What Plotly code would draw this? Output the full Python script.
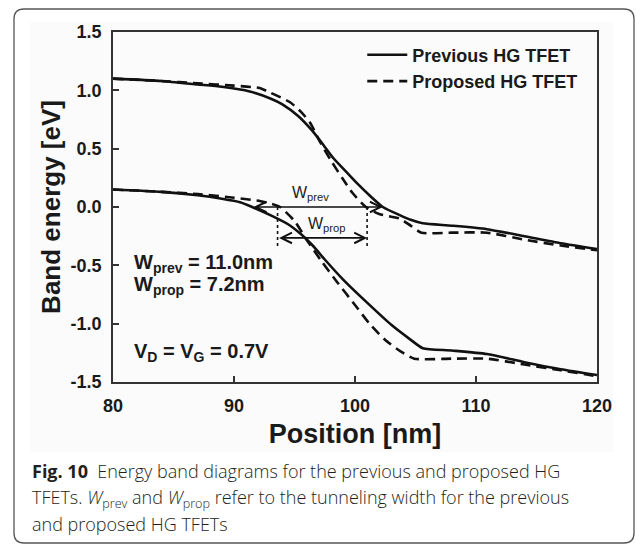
import plotly.graph_objects as go

# ---------------- data ----------------
x_cb_prev = [80, 84, 87, 89, 91.3, 93, 94, 95.3, 96.5, 97.4, 98.2, 99.2, 100.2, 101.3, 102.3, 103.7, 104.6, 105.6, 108, 110.9, 114, 117, 120]
e_cb_prev = [1.10, 1.08, 1.05, 1.03, 0.99, 0.93, 0.88, 0.78, 0.65, 0.53, 0.42, 0.31, 0.20, 0.09, 0.0, -0.07, -0.11, -0.14, -0.16, -0.19, -0.25, -0.31, -0.36]

x_cb_prop = [80, 84, 87, 90, 92.1, 93, 94.6, 95.5, 96.3, 97.1, 98, 99, 99.8, 100.9, 102, 103.7, 104.6, 105.5, 108, 110.9, 114, 117, 120]
e_cb_prop = [1.10, 1.08, 1.06, 1.04, 1.02, 0.98, 0.90, 0.82, 0.72, 0.56, 0.40, 0.24, 0.12, 0.0, -0.06, -0.10, -0.16, -0.22, -0.22, -0.22, -0.28, -0.33, -0.37]

x_vb_prev = [80, 84, 87, 89, 90.5, 91.5, 93, 94.5, 95.5, 96.5, 97.5, 99, 101, 103, 104.5, 105.6, 108, 110.9, 114, 117, 120]
e_vb_prev = [0.15, 0.13, 0.10, 0.07, 0.04, 0.0, -0.07, -0.15, -0.23, -0.33, -0.45, -0.62, -0.82, -1.01, -1.13, -1.21, -1.23, -1.26, -1.33, -1.39, -1.44]

x_vb_prop = [80, 84, 87, 90, 92.2, 93, 93.8, 95, 96, 97.2, 98.5, 100, 101.2, 102.5, 103.8, 104.9, 108, 110.9, 114, 117, 120]
e_vb_prop = [0.15, 0.13, 0.11, 0.08, 0.05, 0.03, 0.0, -0.12, -0.28, -0.46, -0.64, -0.84, -1.0, -1.14, -1.24, -1.30, -1.30, -1.30, -1.35, -1.40, -1.45]

series_names = ["Previous HG TFET", "Proposed HG TFET"]

w_prev_span = [91.5, 102.3]   # tunneling width arrow (previous), at E = 0
w_prev_level = 0.0
w_prop_span = [93.6, 101.0]   # tunneling width arrow (proposed)
w_prop_level = -0.265
dotted_x = [93.6, 101.0]
dotted_e = [0.0, -0.36]

x_ticks = [80, 90, 100, 110, 120]
y_ticks = [-1.5, -1.0, -0.5, 0.0, 0.5, 1.0, 1.5]
y_tick_labels = ["-1.5", "-1.0", "-0.5", "0.0", "0.5", "1.0", "1.5"]

caption_lines = [
    "<b>Fig. 10</b>  Energy band diagrams for the previous and proposed HG",
    "TFETs. <i>W</i><sub>prev</sub> and <i>W</i><sub>prop</sub> refer to the tunneling width for the previous",
    "and proposed HG TFETs",
]

# ---------------- figure ----------------
W, H = 637, 546
L, R, T, B = 113, 40, 32, 164
pw, ph = W - L - R, H - T - B

def px_x(p):
    return (p - L) / pw

def px_y(p):
    return 1 - (p - T) / ph

BOLD = dict(family="Liberation Sans, Arial, sans-serif", color="#1a1a1a", weight="bold")
DASH = "10px,6px"

fig = go.Figure()
line_w = 2.6
fig.add_trace(go.Scatter(x=x_cb_prev, y=e_cb_prev, mode="lines", name=series_names[0], legendgroup="prev",
                         line=dict(color="#111", width=line_w, shape="spline", smoothing=0.6)))
fig.add_trace(go.Scatter(x=x_cb_prop, y=e_cb_prop, mode="lines", name=series_names[1], legendgroup="prop",
                         line=dict(color="#111", width=line_w, dash=DASH, shape="spline", smoothing=0.6)))
fig.add_trace(go.Scatter(x=x_vb_prev, y=e_vb_prev, mode="lines", name=series_names[0], legendgroup="prev", showlegend=False,
                         line=dict(color="#111", width=line_w, shape="spline", smoothing=0.6)))
fig.add_trace(go.Scatter(x=x_vb_prop, y=e_vb_prop, mode="lines", name=series_names[1], legendgroup="prop", showlegend=False,
                         line=dict(color="#111", width=line_w, dash=DASH, shape="spline", smoothing=0.6)))

shapes = []
# card
r = 10
x0, x1, y0, y1 = 14, 634, 9, 543
def P(xp, yp):
    return f"{px_x(xp):.5f},{px_y(yp):.5f}"
path = (f"M {P(x0 + r, y0)} L {P(x1 - r, y0)} Q {P(x1, y0)} {P(x1, y0 + r)} "
        f"L {P(x1, y1 - r)} Q {P(x1, y1)} {P(x1 - r, y1)} L {P(x0 + r, y1)} Q {P(x0, y1)} {P(x0, y1 - r)} "
        f"L {P(x0, y0 + r)} Q {P(x0, y0)} {P(x0 + r, y0)} Z")
shapes.append(dict(type="path", xref="paper", yref="paper", path=path, line=dict(color="#555", width=1.3),
                   fillcolor="white", layer="below"))
shapes.append(dict(type="rect", xref="paper", yref="paper", x0=px_x(30), x1=px_x(613), y0=px_y(452), y1=px_y(22),
                   line=dict(width=0), fillcolor="#fbfbfb", layer="below"))
for dx in dotted_x:
    shapes.append(dict(type="line", xref="x", yref="y", x0=dx, x1=dx, y0=dotted_e[0], y1=dotted_e[1],
                       line=dict(color="#111", width=1.6, dash="dot")))

ann = []
for span, lev in [(w_prev_span, w_prev_level), (w_prop_span, w_prop_level)]:
    ann.append(dict(x=span[1], y=lev, ax=span[0], ay=lev, xref="x", yref="y", axref="x", ayref="y",
                    showarrow=True, arrowhead=5, startarrowhead=5, arrowside="end+start", arrowsize=1.3,
                    arrowwidth=1.6, arrowcolor="#111", text=""))
ann.append(dict(x=96.3, y=0.12, xref="x", yref="y", text="W<sub>prev</sub>", showarrow=False,
                font=dict(family="Liberation Sans, Arial", size=16, color="#222")))
ann.append(dict(x=97.7, y=-0.15, xref="x", yref="y", text="W<sub>prop</sub>", showarrow=False,
                font=dict(family="Liberation Sans, Arial", size=16, color="#222")))
ann.append(dict(x=81.6, y=-0.48, xref="x", yref="y", xanchor="left", text="W<sub>prev</sub> = 11.0nm",
                showarrow=False, font=dict(size=20, **BOLD)))
ann.append(dict(x=81.6, y=-0.67, xref="x", yref="y", xanchor="left", text="W<sub>prop</sub> = 7.2nm",
                showarrow=False, font=dict(size=20, **BOLD)))
ann.append(dict(x=81.6, y=-1.25, xref="x", yref="y", xanchor="left", text="V<sub>D</sub> = V<sub>G</sub> = 0.7V",
                showarrow=False, font=dict(size=20, **BOLD)))
cap_y = [471, 498, 524]
for txt, cy in zip(caption_lines, cap_y):
    ann.append(dict(x=px_x(30), y=px_y(cy), xref="paper", yref="paper", xanchor="left", yanchor="middle",
                    text=txt, showarrow=False,
                    font=dict(family="Open Sans, Noto Sans", size=18, color="#231f20", weight=300)))

fig.update_layout(
    width=W, height=H, autosize=False,
    margin=dict(l=L, r=R, t=T, b=B, pad=0),
    paper_bgcolor="white", plot_bgcolor="#fbfbfb",
    shapes=shapes, annotations=ann,
    showlegend=True,
    legend=dict(x=0.515, y=0.987, xanchor="left", yanchor="top", bgcolor="rgba(0,0,0,0)",
                font=dict(size=18, **BOLD), itemwidth=40, tracegroupgap=0),
    xaxis=dict(range=[80, 120], tickvals=x_ticks, ticks="inside", ticklen=6, tickwidth=1.5, tickcolor="#333",
               showline=True, linecolor="#333", linewidth=1.8, mirror=True, showgrid=False, zeroline=False,
               tickfont=dict(size=18, **BOLD), ticklabelstandoff=6,
               title=dict(text="Position [nm]", font=dict(size=27, **BOLD), standoff=10)),
    yaxis=dict(range=[-1.5, 1.5], tickvals=y_ticks, ticktext=y_tick_labels, ticks="inside", ticklen=6,
               tickwidth=1.5, tickcolor="#333",
               showline=True, linecolor="#333", linewidth=1.8, mirror=True, showgrid=False, zeroline=False,
               tickfont=dict(size=18, **BOLD), ticklabelstandoff=6,
               title=dict(text="Band energy [eV]", font=dict(size=26, **BOLD), standoff=2)),
)

fig.write_html("out.html")
